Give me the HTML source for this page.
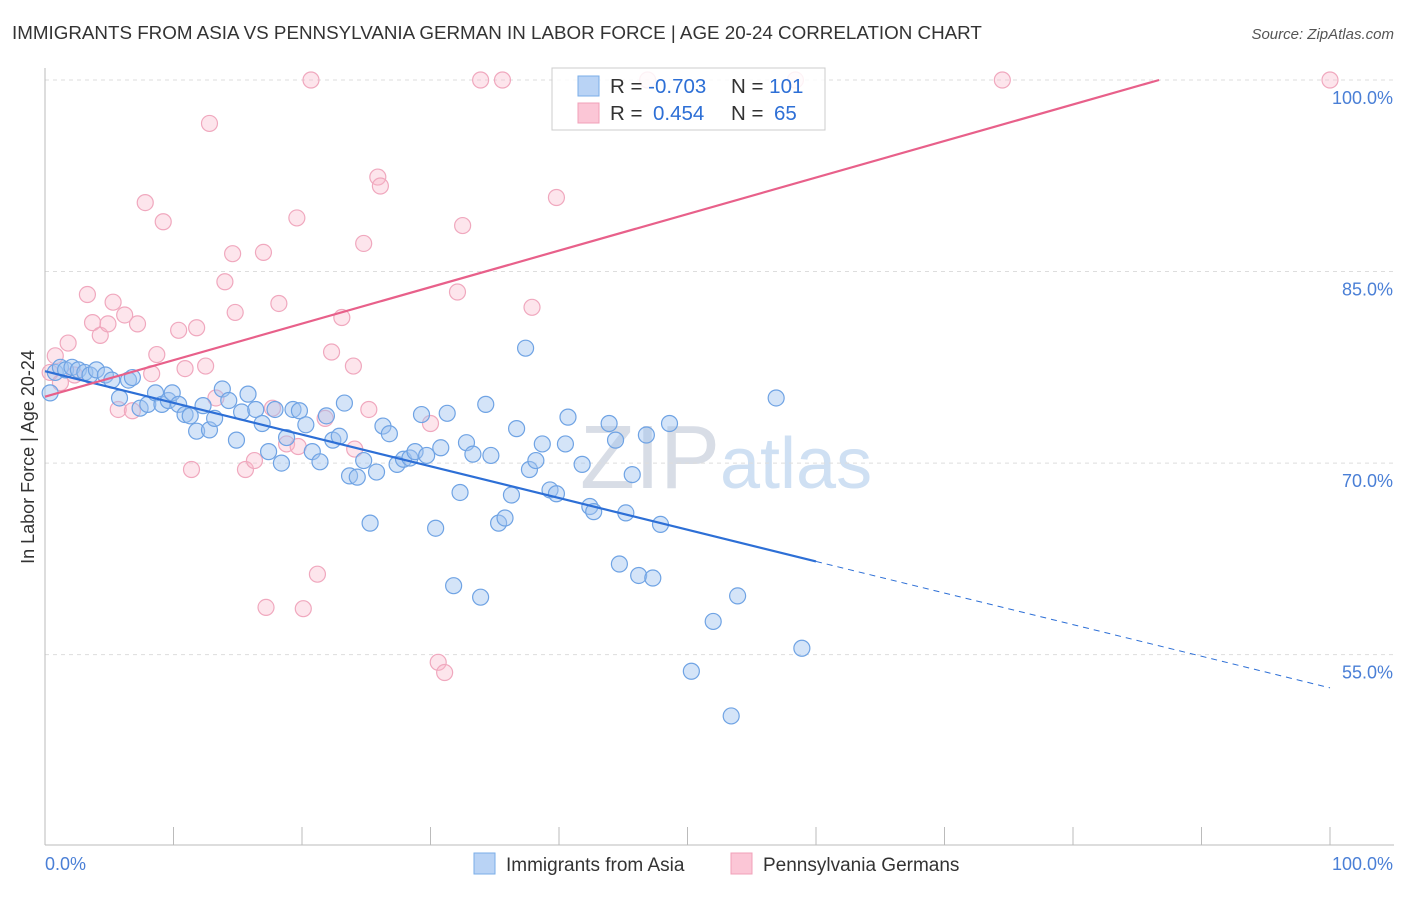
<!DOCTYPE html>
<html><head><meta charset="utf-8"><style>
body{margin:0;background:#fff;font-family:"Liberation Sans",sans-serif}
svg text{font-family:"Liberation Sans",sans-serif}
</style></head><body>
<svg id="chart" width="1406" height="892" viewBox="0 0 1406 892">
<text x="12" y="39" font-size="18.8" fill="#333">IMMIGRANTS FROM ASIA VS PENNSYLVANIA GERMAN IN LABOR FORCE | AGE 20-24 CORRELATION CHART</text>
<text x="1394" y="39" font-size="15" fill="#555" font-style="italic" text-anchor="end">Source: ZipAtlas.com</text>
<text x="720" y="488" font-size="90" fill="#d8dde6" text-anchor="end" font-family="Liberation Serif">ZIP</text>
<text x="720" y="488" font-size="72" fill="#cfe0f3">atlas</text>
<g id="grid"></g><g id="axes"></g><g id="pts"></g><g id="lines"></g>
<text transform="translate(34,457) rotate(-90)" font-size="18" fill="#333" text-anchor="middle">In Labor Force | Age 20-24</text>
<g>
<rect x="552" y="68" width="273" height="62" fill="#fff" fill-opacity="0.85" stroke="#ccc"/>
<rect x="578" y="76" width="21" height="20" fill="#b9d3f5" stroke="#7aaee8"/>
<rect x="578" y="103" width="21" height="20" fill="#fbc6d6" stroke="#f0a0b8"/>
<text x="610" y="93" font-size="20.5" fill="#333">R = <tspan fill="#2d6fd6">-0.703</tspan></text>
<text x="731" y="93" font-size="20.5" fill="#333">N = <tspan fill="#2d6fd6">101</tspan></text>
<text x="610" y="120" font-size="20.5" fill="#333">R = <tspan fill="#2d6fd6" x="653">0.454</tspan></text>
<text x="731" y="120" font-size="20.5" fill="#333">N = <tspan fill="#2d6fd6" x="774">65</tspan></text>
</g>
<g>
<rect x="474" y="853" width="21" height="21" fill="#b9d3f5" stroke="#7aaee8"/>
<text x="506" y="871" font-size="19" fill="#333">Immigrants from Asia</text>
<rect x="731" y="853" width="21" height="21" fill="#fbc6d6" stroke="#f0a0b8"/>
<text x="763" y="871" font-size="19" fill="#333">Pennsylvania Germans</text>
</g>
</svg>
<script>
const yTicks=[55,70,85,100];
const yTickLabels=["55.0%","70.0%","85.0%","100.0%"];
const xTicks=[0,10,20,30,40,50,60,70,80,90,100];
const blueX=[0.4,0.8,1.2,1.6,2.1,2.6,3.1,3.5,4.0,4.7,5.2,5.8,6.5,6.8,7.4,8.0,8.6,9.1,9.6,9.9,10.4,10.9,11.3,11.8,12.3,12.8,13.2,13.8,14.3,14.9,15.3,15.8,16.4,16.9,17.4,17.9,18.4,18.8,19.3,19.8,20.3,20.8,21.4,21.9,22.4,22.9,23.3,23.7,24.3,24.8,25.3,25.8,26.3,26.8,27.4,27.9,28.4,28.8,29.3,29.7,30.4,30.8,31.3,31.8,32.3,32.8,33.3,33.9,34.3,34.7,35.3,35.8,36.3,36.7,37.7,38.2,38.7,39.3,39.8,40.5,40.7,41.8,42.4,42.7,43.9,44.4,44.7,45.2,45.7,46.2,46.8,47.3,47.9,48.6,52.0,50.3,53.4,53.9,56.9,58.9,37.4];
const blueY=[75.5,77.1,77.5,77.3,77.5,77.3,77.1,76.9,77.3,76.9,76.5,75.1,76.5,76.7,74.3,74.6,75.5,74.6,74.9,75.5,74.6,73.8,73.7,72.5,74.5,72.6,73.5,75.8,74.9,71.8,74.0,75.4,74.2,73.1,70.9,74.2,70.0,72.0,74.2,74.1,73.0,70.9,70.1,73.7,71.8,72.1,74.7,69.0,68.9,70.2,65.3,69.3,72.9,72.3,69.9,70.3,70.4,70.9,73.8,70.6,64.9,71.2,73.9,60.4,67.7,71.6,70.7,59.5,74.6,70.6,65.3,65.7,67.5,72.7,69.5,70.2,71.5,67.9,67.6,71.5,73.6,69.9,66.6,66.2,73.1,71.8,62.1,66.1,69.1,61.2,72.2,61.0,65.2,73.1,57.6,53.7,50.2,59.6,75.1,55.5,79.0];
const pinkX=[0.8,0.4,1.2,1.8,2.3,3.3,3.7,4.3,4.9,5.3,6.2,7.2,5.7,6.8,7.8,8.3,8.7,9.2,10.4,10.9,11.4,11.8,12.5,12.8,13.3,14.0,14.6,14.8,15.6,16.3,17.0,17.2,17.7,18.2,18.8,19.6,20.1,20.7,21.2,21.8,22.3,23.1,24.0,24.1,24.8,25.2,25.9,26.1,30.0,30.6,31.1,32.1,32.5,33.9,35.6,37.9,39.8,46.9,58.4,74.5,100,19.7];
const pinkY=[78.4,77.1,76.3,79.4,76.9,83.2,81.0,80.0,80.9,82.6,81.6,80.9,74.2,74.1,90.4,77.0,78.5,88.9,80.4,77.4,69.5,80.6,77.6,96.6,75.1,84.2,86.4,81.8,69.5,70.2,86.5,58.7,74.3,82.5,71.5,89.2,58.6,100,61.3,73.5,78.7,81.4,77.6,71.1,87.2,74.2,92.4,91.7,73.1,54.4,53.6,83.4,88.6,100,100,82.2,90.8,100,100,100,100,71.3];
const blueTrend=[0,77.2,60,62.3,100,52.4];
const pinkTrend=[0,75.2,86.7,100];
const NS="http://www.w3.org/2000/svg";
const X=v=>45+v*12.85, Y=v=>80+(100-v)*12.77;
function mk(t,a,p){const e=document.createElementNS(NS,t);for(const k in a)e.setAttribute(k,a[k]);p.appendChild(e);return e;}
const grid=document.getElementById('grid'),axes=document.getElementById('axes'),pts=document.getElementById('pts'),lines=document.getElementById('lines');
yTicks.forEach((t,i)=>{
 const l=mk('line',{x1:45,x2:1394,y1:Y(t),y2:Y(t),stroke:'#ddd','stroke-dasharray':'4,4'},grid);
 
 
 const tx=mk('text',{x:1393,y:Y(t)+24,'font-size':18,fill:'#4a7fd6','text-anchor':'end'},axes);
 tx.textContent=yTickLabels[i];
 
 
});
mk('line',{x1:45,x2:45,y1:68,y2:845,stroke:'#bbb'},axes);
mk('line',{x1:45,x2:1394,y1:845,y2:845,stroke:'#bbb'},axes);
xTicks.forEach(t=>{const l=mk('line',{x1:X(t),x2:X(t),y1:827,y2:845,stroke:'#bbb'},axes);
 
 });
const x0=mk('text',{x:45,y:870,'font-size':18,fill:'#4a7fd6'},axes);x0.textContent='0.0%';


const x1=mk('text',{x:1393,y:870,'font-size':18,fill:'#4a7fd6','text-anchor':'end'},axes);x1.textContent='100.0%';


pinkX.forEach((v,i)=>{const c=mk('circle',{cx:X(v),cy:Y(pinkY[i]),r:8,fill:'rgba(248,180,200,0.35)',stroke:'#f0a8be','stroke-width':1.2},pts);
 
 });
blueX.forEach((v,i)=>{const c=mk('circle',{cx:X(v),cy:Y(blueY[i]),r:8,fill:'rgba(160,196,240,0.45)',stroke:'#6fa3e4','stroke-width':1.2},pts);
 
 });
const b1=mk('line',{x1:X(blueTrend[0]),y1:Y(blueTrend[1]),x2:X(blueTrend[2]),y2:Y(blueTrend[3]),stroke:'#2d6fd6','stroke-width':2.2},lines);


const b2=mk('line',{x1:X(blueTrend[2]),y1:Y(blueTrend[3]),x2:X(blueTrend[4]),y2:Y(blueTrend[5]),stroke:'#2d6fd6','stroke-width':1,'stroke-dasharray':'6,5'},lines);


const p1=mk('line',{x1:X(pinkTrend[0]),y1:Y(pinkTrend[1]),x2:X(pinkTrend[2]),y2:Y(pinkTrend[3]),stroke:'#e8608a','stroke-width':2.2},lines);


</script>
</body></html>
